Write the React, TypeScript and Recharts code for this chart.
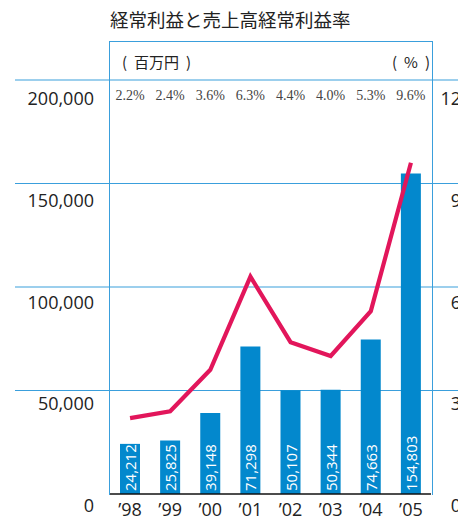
import React from 'react';
import { ComposedChart, Bar, Line, XAxis, YAxis, CartesianGrid, LabelList } from 'recharts';

const years = ["’98", "’99", "’00", "’01", "’02", "’03", "’04", "’05"];
const ordinaryIncome = [24212, 25825, 39148, 71298, 50107, 50344, 74663, 154803];
const incomeRatio = [2.2, 2.4, 3.6, 6.3, 4.4, 4.0, 5.3, 9.6];
const amountTicks = [0, 50000, 100000, 150000, 200000];
const ratioTicks = [0, 3, 6, 9, 12];

const BLUE = '#3a9fdc';
const BAR = '#0388cd';
const RED = '#e2165b';
const SANS = '"Open Sans", "DejaVu Sans", sans-serif';
const CJK = '"Noto Sans CJK JP", sans-serif';

const data = years.map((year, i) => ({
  year,
  amount: ordinaryIncome[i],
  ratio: incomeRatio[i],
}));

function fmt(n: number) {
  return n.toLocaleString('en-US');
}

// labels sit a bit lower under the top gridlines than under the bottom ones
function labelDrop(frac: number) {
  return 11 + 7 * frac;
}

function LeftTick(props: any) {
  const { x, y, payload } = props;
  return (
    <text x={x} y={y + labelDrop(payload.value / 200000)} textAnchor="end" dominantBaseline="central" fontFamily={SANS} fontSize={18} fill="#222">
      {fmt(payload.value)}
    </text>
  );
}

function RightTick(props: any) {
  const { x, y, payload } = props;
  return (
    <text x={x + 15} y={y + labelDrop(payload.value / 12)} textAnchor="end" dominantBaseline="central" fontFamily={SANS} fontSize={18} fill="#222">
      {payload.value}
    </text>
  );
}

function YearTick(props: any) {
  const { x, y, payload } = props;
  return (
    <text x={x} y={y + 7} textAnchor="middle" dominantBaseline="central" fontFamily={SANS} fontSize={18} fill="#222">
      {payload.value}
    </text>
  );
}

function RatioTick(props: any) {
  const { x, index } = props;
  return (
    <text x={x} y={95} textAnchor="middle" dominantBaseline="central" fontFamily='"Liberation Serif", serif' fontSize={14} fill="#444">
      {incomeRatio[index].toFixed(1) + '%'}
    </text>
  );
}

function BarValue(props: any) {
  const { x, y, width, height, value } = props;
  const cx = x + width / 2;
  const by = y + height - 3;
  return (
    <text
      x={cx}
      y={by}
      transform={`rotate(-90 ${cx} ${by})`}
      textAnchor="start"
      dominantBaseline="central"
      fontFamily={SANS}
      fontSize={15}
      fill="#fff"
    >
      {fmt(value)}
    </text>
  );
}

function GridLine(props: any) {
  if (props.index === 0) return <g key={props.key} />;
  return <line key={props.key} x1={15} x2={458} y1={props.y1} y2={props.y2} stroke={BLUE} strokeWidth={1.2} />;
}

const unitStyle: React.CSSProperties = {
  position: 'absolute',
  top: 51,
  fontFamily: CJK,
  fontSize: 15,
  color: '#222',
  whiteSpace: 'nowrap',
  display: 'flex',
  gap: 7,
};

export default function App() {
  return (
    <div style={{ position: 'absolute', left: 0, top: 0, width: 458, height: 520, background: '#fff', overflow: 'hidden' }}>
      <div style={{ position: 'absolute', left: 110, top: 6, fontFamily: CJK, fontSize: 18.5, color: '#222', whiteSpace: 'nowrap' }}>
        経常利益と売上高経常利益率
      </div>
      <div style={{ position: 'absolute', left: 109, top: 41, width: 322, height: 453, borderTop: `1.2px solid ${BLUE}`, borderLeft: `1.2px solid ${BLUE}`, borderRight: `1.2px solid ${BLUE}` }} />
      <div style={{ ...unitStyle, left: 122 }}>
        <span>(</span><span>百万円</span><span>)</span>
      </div>
      <div style={{ ...unitStyle, left: 392 }}>
        <span>(</span><span>%</span><span>)</span>
      </div>
      <div style={{ position: 'absolute', left: 0, top: 0 }}>
        <ComposedChart width={458} height={520} data={data} margin={{ top: 0, right: 0, bottom: 0, left: 0 }}>
          <CartesianGrid yAxisId="amt" vertical={false} horizontal={GridLine} />
          <XAxis xAxisId="top" dataKey="year" orientation="top" height={80} axisLine={false} tickLine={false} tick={RatioTick} interval={0} />
          <XAxis dataKey="year" height={26} axisLine={{ stroke: '#111', strokeWidth: 1.5 }} tickLine={false} tick={YearTick} interval={0} />
          <YAxis yAxisId="amt" width={110} domain={[0, 200000]} ticks={amountTicks} axisLine={false} tickLine={false} tickMargin={10} tick={LeftTick} />
          <YAxis yAxisId="pct" orientation="right" width={27} domain={[0, 12]} ticks={ratioTicks} axisLine={false} tickLine={false} tickMargin={9} tick={RightTick} />
          <Bar yAxisId="amt" dataKey="amount" fill={BAR} barSize={20} isAnimationActive={false}>
            <LabelList dataKey="amount" content={BarValue} />
          </Bar>
          <Line yAxisId="pct" dataKey="ratio" stroke={RED} strokeWidth={4.2} dot={false} type="linear" isAnimationActive={false} />
        </ComposedChart>
      </div>
    </div>
  );
}
